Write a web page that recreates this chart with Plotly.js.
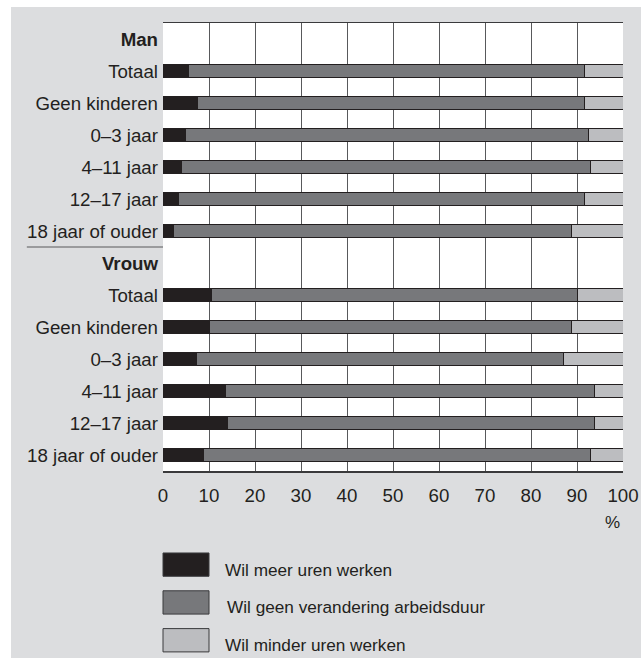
<!DOCTYPE html>
<html>
<head>
<meta charset="utf-8">
<script src="https://cdn.plot.ly/plotly-3.0.1.min.js"></script>
<style>
  html, body { margin: 0; padding: 0; background: #ffffff; }
  #chart { position: absolute; left: 11px; top: 7px; width: 630px; height: 651px; }
</style>
</head>
<body>
<div id="chart"></div>
<script>
// rows top to bottom; headers have no bar
const rowLabels = [
  "<b>Man</b>", "Totaal", "Geen kinderen", "0–3 jaar", "4–11 jaar", "12–17 jaar", "18 jaar of ouder",
  "<b>Vrouw</b>", "Totaal", "Geen kinderen", "0–3 jaar", "4–11 jaar", "12–17 jaar", "18 jaar of ouder"
];

// percentages per row (null = header row)
const meerUren = [null, 5.6, 7.5, 4.9, 4.0, 3.3, 2.3, null, 10.5, 10.0, 7.3, 13.6, 14.1, 8.8];
const geenVerandering = [null, 86.1, 84.1, 87.7, 89.0, 88.4, 86.6, null, 79.7, 78.7, 79.7, 80.2, 79.7, 84.1];
const minderUren = [null, 8.3, 8.4, 7.4, 7.0, 8.3, 11.1, null, 9.8, 11.3, 13.0, 6.2, 6.2, 7.1];

const seriesNames = ["Wil meer uren werken", "Wil geen verandering arbeidsduur", "Wil minder uren werken"];
const seriesColors = ["#231f20", "#77787b", "#bcbdc0"];

const xTicks = [0, 10, 20, 30, 40, 50, 60, 70, 80, 90, 100];

const rowIdx = rowLabels.map((_, i) => i);
const textColor = "#231f20";
const fontFam = "Liberation Sans, Arial, sans-serif";

const traces = [meerUren, geenVerandering, minderUren].map((vals, k) => ({
  type: "bar",
  orientation: "h",
  x: vals,
  y: rowIdx,
  name: seriesNames[k],
  width: 0.4,
  marker: { color: seriesColors[k], line: { color: "#231f20", width: 1 } },
  hoverinfo: "skip",
  showlegend: false,
}));

// legend drawn as boxes + text under the axis
const shapes = [];
const annotations = [];
seriesNames.forEach((name, k) => {
  const top = -0.183 - k * 0.0844;
  shapes.push({
    type: "rect", xref: "paper", yref: "paper",
    x0: 0, x1: 0.1, y0: top, y1: top - 0.052,
    fillcolor: seriesColors[k], line: { color: "#3a3a3c", width: 1 },
  });
  annotations.push({
    xref: "paper", yref: "paper", x: k === 1 ? 0.134 : 0.1304, y: top - 0.037,
    xanchor: "left", yanchor: "middle", showarrow: false,
    text: name, font: { size: 17.2, color: textColor, family: fontFam },
  });
});

// separator between Man and Vrouw in the label column
shapes.push({
  type: "line", xref: "paper", yref: "y",
  x0: -0.296, x1: 0, y0: 6.5, y1: 6.5,
  line: { color: "#58595b", width: 1 },
});

annotations.push({
  xref: "paper", yref: "paper", x: 1, y: -0.114, xshift: -1,
  xanchor: "right", yanchor: "middle", showarrow: false,
  text: "%", font: { size: 17, color: textColor, family: fontFam },
});

const layout = {
  width: 630,
  height: 651,
  paper_bgcolor: "#dcdddf",
  plot_bgcolor: "#ffffff",
  margin: { l: 152.3, r: 17.7, t: 15.7, b: 187.3 },
  barmode: "stack",
  bargap: 0,
  font: { family: fontFam, color: textColor, size: 18 },
  xaxis: {
    range: [0, 100],
    tickvals: xTicks,
    ticktext: xTicks.map(String),
    ticks: "",
    ticklabelstandoff: 7,
    showgrid: true,
    gridcolor: "#58595b",
    gridwidth: 1,
    zeroline: false,
    showline: true,
    mirror: true,
    linecolor: "#3a3a3c",
    linewidth: 1.5,
    tickfont: { size: 18.7, color: textColor },
    fixedrange: true,
  },
  yaxis: {
    range: [13.5, -0.5],
    tickvals: rowIdx,
    ticktext: rowLabels,
    ticks: "",
    ticklabelstandoff: 4,
    showgrid: false,
    zeroline: false,
    showline: false,
    tickfont: { size: 18.7, color: textColor },
    fixedrange: true,
  },
  shapes: shapes,
  annotations: annotations,
};

Plotly.newPlot("chart", traces, layout, { displayModeBar: false, staticPlot: true });
</script>
</body>
</html>
